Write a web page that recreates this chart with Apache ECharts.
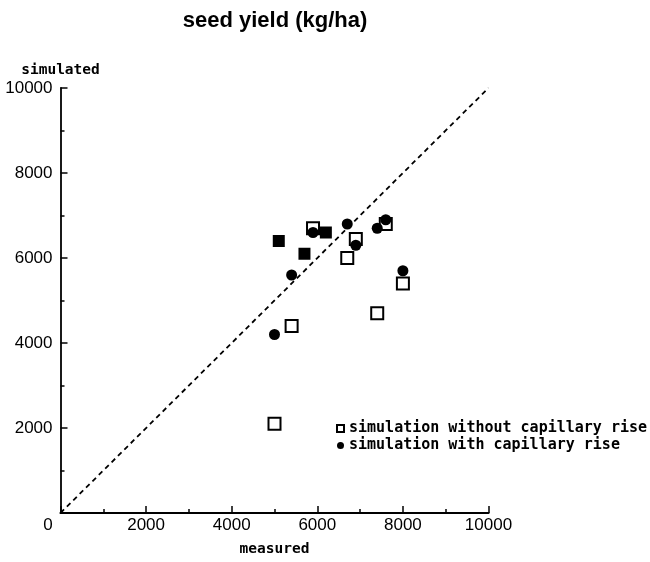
<!DOCTYPE html>
<html>
<head>
<meta charset="utf-8">
<script src="https://cdn.jsdelivr.net/npm/echarts@6/dist/echarts.min.js"></script>
<style>
  html, body { margin: 0; padding: 0; background: #fff; }
  #chart { width: 650px; height: 562px; }
</style>
</head>
<body>
<div id="chart"></div>
<script>
// Seed yield (kg/ha): measured vs simulated
const axisTicks = [0, 2000, 4000, 6000, 8000, 10000];

// [measured, simulated] without capillary rise
const withoutRise = [
  [5000, 2100], [5400, 4400], [7400, 4700], [8000, 5400],
  [6700, 6000], [5900, 6700], [6900, 6450], [7600, 6800]
];
// [measured, simulated] with capillary rise
const withRise = [
  [5000, 4200], [5400, 5600], [5900, 6600], [6700, 6800],
  [6900, 6300], [7400, 6700], [7600, 6900], [8000, 5700]
];
// sites where both simulations give the same value
const bothEqual = [[5100, 6400], [5700, 6100], [6200, 6600]];

// 1:1 line
const oneToOne = [[0, 0], [10000, 10000]];

const monoFont = 'DejaVu Sans Mono';
const numFont = 'Liberation Sans';
const axisMin = axisTicks[0];
const axisMax = axisTicks[axisTicks.length - 1];
const axisStep = axisTicks[1] - axisTicks[0];

const chart = echarts.init(document.getElementById('chart'), null, { renderer: 'canvas' });

chart.setOption({
  backgroundColor: '#fff',
  animation: false,
  title: {
    text: 'seed yield (kg/ha)',
    left: 275,
    top: 10,
    padding: 0,
    textAlign: 'center',
    textStyle: { fontFamily: 'Liberation Sans', fontWeight: 'bold', fontSize: 22, color: '#000' }
  },
  grid: { left: 60.5, right: 161.5, top: 88, bottom: 48, containLabel: false },
  legend: {
    orient: 'vertical',
    left: 336,
    top: 421,
    padding: 0,
    itemGap: 2,
    itemWidth: 7,
    itemHeight: 7,
    textStyle: { fontFamily: monoFont, fontWeight: 'bold', fontSize: 15, color: '#000' },
    data: [
      { name: 'simulation without capillary rise', icon: 'rect' },
      { name: 'simulation with capillary rise', icon: 'circle' }
    ]
  },
  xAxis: {
    type: 'value',
    min: axisMin, max: axisMax, interval: axisStep,
    name: 'measured',
    nameLocation: 'middle',
    nameGap: 29,
    nameTextStyle: { fontFamily: monoFont, fontWeight: 'bold', fontSize: 14.5, color: '#000' },
    axisLine: { lineStyle: { color: '#000', width: 2.2 } },
    axisTick: { inside: true, length: 7, lineStyle: { color: '#000', width: 1.5 } },
    minorTick: { show: true, splitNumber: 2, length: 4, lineStyle: { color: '#000', width: 1.5 } },
    splitLine: { show: false },
    axisLabel: {
      color: '#000', fontFamily: numFont, fontSize: 17, margin: 4,
      formatter: v => v === 0 ? '{z|0}' : String(v),
      rich: { z: { fontFamily: numFont, fontSize: 17, color: '#000', padding: [0, 25, 0, 0] } }
    }
  },
  yAxis: {
    type: 'value',
    min: axisMin, max: axisMax, interval: axisStep,
    name: 'simulated',
    nameLocation: 'end',
    nameGap: 10,
    nameTextStyle: { fontFamily: monoFont, fontWeight: 'bold', fontSize: 14.5, color: '#000' },
    axisLine: { lineStyle: { color: '#000', width: 1.8 } },
    axisTick: { inside: true, length: 7, lineStyle: { color: '#000', width: 1.5 } },
    minorTick: { show: true, splitNumber: 2, length: 4, lineStyle: { color: '#000', width: 1.5 } },
    splitLine: { show: false },
    axisLabel: {
      color: '#000', fontFamily: numFont, fontSize: 17, margin: 8,
      formatter: v => v === 0 ? '' : String(v)
    }
  },
  series: [
    {
      name: '1:1',
      type: 'line',
      data: oneToOne,
      symbol: 'none',
      silent: true,
      z: 1,
      lineStyle: { color: '#000', width: 1.8, type: [5, 4] }
    },
    {
      name: 'simulation without capillary rise',
      type: 'scatter',
      data: withoutRise,
      symbol: 'rect',
      symbolSize: 12,
      z: 2,
      itemStyle: { color: '#fff', borderColor: '#000', borderWidth: 2, opacity: 1 }
    },
    {
      name: 'simulation with capillary rise',
      type: 'scatter',
      data: withRise,
      symbol: 'circle',
      symbolSize: 11,
      z: 3,
      itemStyle: { color: '#000', opacity: 1 }
    },
    {
      name: 'both',
      type: 'scatter',
      data: bothEqual,
      symbol: 'rect',
      symbolSize: 12,
      z: 4,
      itemStyle: { color: '#000', opacity: 1 }
    }
  ]
});
</script>
</body>
</html>
